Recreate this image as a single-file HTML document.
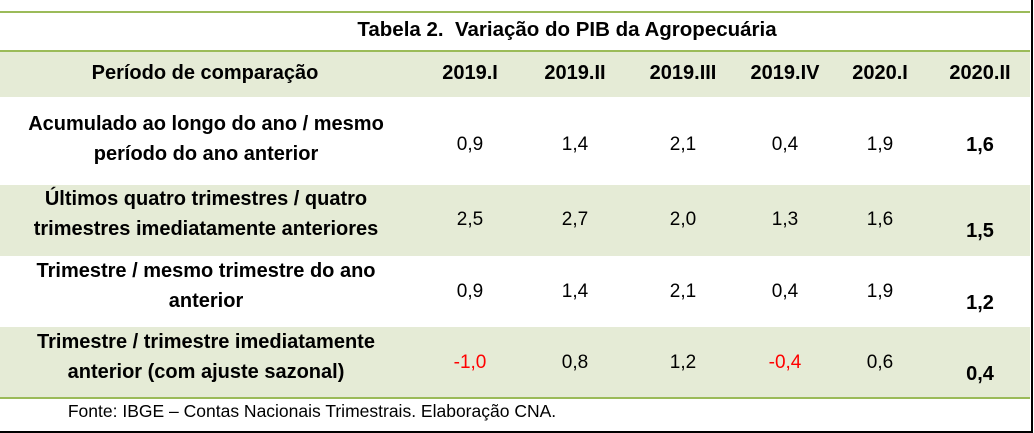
<!DOCTYPE html>
<html><head><meta charset="utf-8"><style>
body{margin:0;width:1034px;height:433px;background:#fff;font-family:"Liberation Sans",sans-serif;position:relative;overflow:hidden;color:#000}
div{position:absolute}
.band{left:0;width:1030px;background:#e5ebd6}
.t{transform:translate(-50%,-50%);white-space:nowrap;text-align:center;font-size:19px;line-height:30px}
.b{font-weight:bold;font-size:20px}
.r{color:#ff0000}
</style></head><body>
<div style="left:0;top:11px;width:1030px;height:2px;background:#9bbb59"></div>
<div style="left:0;top:50px;width:1030px;height:2px;background:#9bbb59"></div>
<div class="band" style="top:52px;height:45px"></div>
<div class="band" style="top:185px;height:71px"></div>
<div class="band" style="top:327px;height:70px"></div>
<div style="left:0;top:397px;width:1030px;height:2px;background:#9bbb59"></div>
<div style="left:1031px;top:0;width:2px;height:433px;background:#000"></div>
<div style="left:0;top:431px;width:1033px;height:2px;background:#000"></div>
<div class="t b" style="left:567px;top:30px;font-size:20.5px">Tabela 2.&nbsp; Variação do PIB da Agropecuária</div>
<div id="tbl" style="left:0;top:0;width:1034px;height:433px"></div>
<div class="t" style="left:312px;top:411px;font-size:17.5px">Fonte: IBGE – Contas Nacionais Trimestrais. Elaboração CNA.</div>
<script>
const periods=["2019.I","2019.II","2019.III","2019.IV","2020.I","2020.II"];
const rowLabels=[["Acumulado ao longo do ano / mesmo","período do ano anterior"],["Últimos quatro trimestres / quatro","trimestres imediatamente anteriores"],["Trimestre / mesmo trimestre do ano","anterior"],["Trimestre / trimestre imediatamente","anterior (com ajuste sazonal)"]];
const values=[[0.9,1.4,2.1,0.4,1.9,1.6],[2.5,2.7,2.0,1.3,1.6,1.5],[0.9,1.4,2.1,0.4,1.9,1.2],[-1.0,0.8,1.2,-0.4,0.6,0.4]];
const colX=[470,575,683,785,880,980];
const rowY=[139,214,286,357];
const tbl=document.getElementById('tbl');
function mk(txt,x,y,cls){const d=document.createElement('div');d.className='t '+cls;d.style.left=x+'px';d.style.top=y+'px';d.innerHTML=txt;tbl.appendChild(d);return d;}
let h=mk('Período de comparação',205,73,'b');


periods.forEach((p,i)=>{const d=mk(p,colX[i],73,'b');

});
rowLabels.forEach((l,r)=>{const d=mk(l.join('<br>'),206,rowY[r],'b');


values[r].forEach((v,i)=>{const last=i===5;const s=v.toFixed(1).replace('.',',');
const c=mk(s,colX[i],rowY[r]+(last?(r>0?17:6):6),(last?'b ':'')+(v<0?'r':''));

});});
</script>
</body></html>
